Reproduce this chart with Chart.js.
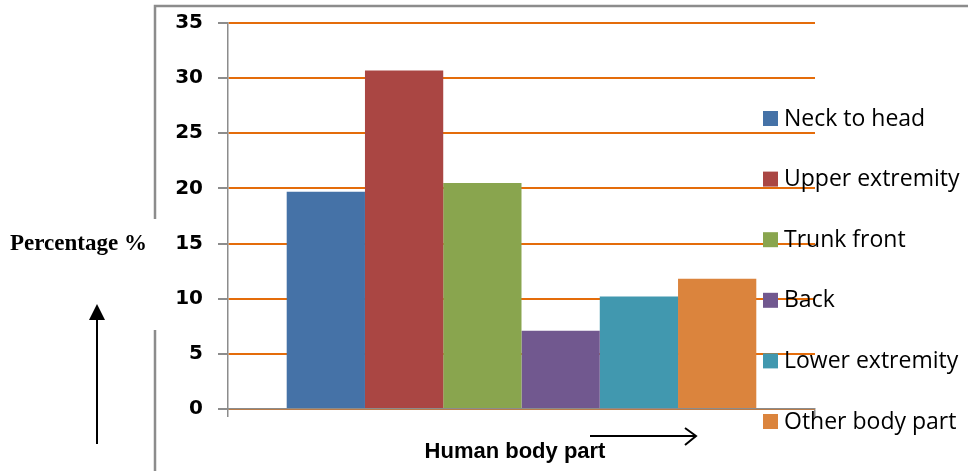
<!DOCTYPE html>
<html>
<head>
<meta charset="utf-8">
<script src="https://cdn.jsdelivr.net/npm/chart.js@4.4.1/dist/chart.umd.min.js"></script>
<style>
  html, body { margin: 0; padding: 0; background: #fff; }
  #wrap { position: relative; width: 968px; height: 471px; }
</style>
</head>
<body>
<div id="wrap"><canvas id="chartDestination"></canvas></div>
<script>
const bodyParts = ["Neck to head", "Upper extremity", "Trunk front", "Back", "Lower extremity", "Other body part"];
const percentages = [19.7, 30.7, 20.5, 7.1, 10.2, 11.8];
const barColors = ["#4572A7", "#AA4643", "#89A54E", "#71588F", "#4198AF", "#DB843D"];
const yTicks = [0, 5, 10, 15, 20, 25, 30, 35];
const yTitle = "Percentage %";
const xTitle = "Human body part";

// one dataset per body part, like the office chart
const datasets = bodyParts.map((name, i) => ({
  label: name,
  data: [percentages[i]],
  backgroundColor: barColors[i],
  borderWidth: 0,
}));

// frame, arrows, axis titles and the right side legend
const decorPlugin = {
  id: "decor",
  beforeDraw(chart) {
    const c = chart.ctx;
    c.save();
    c.fillStyle = "#fff";
    c.fillRect(0, 0, chart.width, chart.height);
    c.strokeStyle = "#8c8c8c";
    c.lineWidth = 2.5;
    c.beginPath();
    c.moveTo(155, 219);
    c.lineTo(155, 6);
    c.lineTo(968, 6);
    c.moveTo(155, 330);
    c.lineTo(155, 471);
    c.stroke();
    c.restore();
  },
  afterDraw(chart) {
    const c = chart.ctx;
    c.save();
    // y title
    c.fillStyle = "#000";
    c.font = "bold 23px 'Liberation Serif'";
    c.textBaseline = "middle";
    c.textAlign = "left";
    c.fillText(yTitle, 10, 244);
    // x title
    c.font = "bold 22px 'Liberation Sans'";
    c.textAlign = "center";
    c.fillText(xTitle, 515, 452);
    // up arrow
    c.strokeStyle = "#000";
    c.lineWidth = 2;
    c.beginPath();
    c.moveTo(97, 444);
    c.lineTo(97, 318);
    c.stroke();
    c.beginPath();
    c.moveTo(97, 304);
    c.lineTo(105, 320);
    c.lineTo(89, 320);
    c.closePath();
    c.fill();
    // right arrow
    c.beginPath();
    c.moveTo(590, 436);
    c.lineTo(696, 436);
    c.moveTo(685, 428);
    c.lineTo(696, 436);
    c.lineTo(685, 445);
    c.stroke();
    // legend
    c.font = "23px 'Open Sans'";
    c.textAlign = "left";
    chart.data.datasets.forEach((ds, i) => {
      const y = 118 + i * 60.6;
      c.fillStyle = ds.backgroundColor;
      c.fillRect(763, y - 7, 15, 15);
      c.fillStyle = "#000";
      c.fillText(ds.label, 784, y + 1);
    });
    c.restore();
  },
};

const ctx = document.getElementById("chartDestination");
const chart = new Chart(ctx, {
  type: "bar",
  data: { labels: [""], datasets: datasets },
  options: {
    responsive: true,
    maintainAspectRatio: false,
    animation: false,
    layout: { padding: { left: 155, right: 153, top: 23, bottom: 54 } },
    datasets: { bar: { categoryPercentage: 0.8, barPercentage: 1 } },
    scales: {
      x: {
        ticks: { display: false },
        grid: { drawOnChartArea: false, tickLength: 8, color: "#8c8c8c", lineWidth: 1.5 },
        border: { color: "#8c8c8c", width: 1.5 },
        afterFit(scale) { scale.height = 8; },
      },
      y: {
        min: 0,
        max: 35,
        afterBuildTicks(scale) { scale.ticks = yTicks.map((v) => ({ value: v })); },
        ticks: {
          color: "#000",
          padding: 15,
          font: { family: "'DejaVu Sans'", size: 20, weight: "bold" },
        },
        grid: { color: "#E46C0A", lineWidth: 2, tickColor: "#8c8c8c", tickLength: 10 },
        border: { color: "#8c8c8c", width: 1.5 },
        afterFit(scale) {
          scale.width = 73;
          scale.paddingTop = 0;
          scale.paddingBottom = 0;
        },
      },
    },
    plugins: {
      legend: { display: false },
      tooltip: { enabled: false },
    },
  },
  plugins: [decorPlugin],
});
</script>
</body>
</html>
